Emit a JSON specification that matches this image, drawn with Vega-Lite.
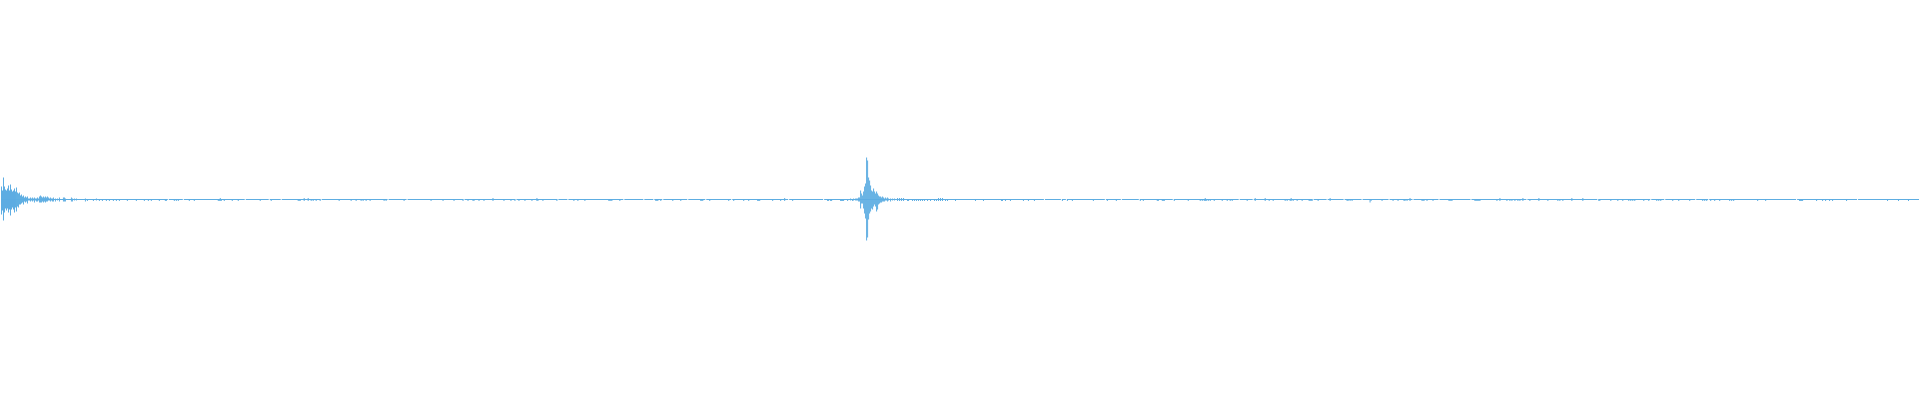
{
  "$schema": "https://vega.github.io/schema/vega-lite/v6.json",
  "width": 1920,
  "height": 400,
  "autosize": {"type": "fit", "contains": "padding"},
  "padding": 0,
  "background": "white",
  "config": {"view": {"stroke": null}},
  "datasets": {
    "base": [
      {"s": -0.5, "e": 166.5}, {"s": 167.5, "e": 181.5}, {"s": 182.5, "e": 243.5}, {"s": 244.5, "e": 267.5},
      {"s": 268.5, "e": 279.5}, {"s": 280.5, "e": 319.5}, {"s": 320.5, "e": 386.5}, {"s": 387.5, "e": 405.5},
      {"s": 406.5, "e": 462.5}, {"s": 463.5, "e": 514.5}, {"s": 515.5, "e": 556.5}, {"s": 557.5, "e": 566.5},
      {"s": 567.5, "e": 622.5}, {"s": 623.5, "e": 642.5}, {"s": 643.5, "e": 652.5}, {"s": 653.5, "e": 661.5},
      {"s": 662.5, "e": 686.5}, {"s": 687.5, "e": 704.5}, {"s": 705.5, "e": 730.5}, {"s": 731.5, "e": 787.5},
      {"s": 788.5, "e": 822.5}, {"s": 823.5, "e": 1043.5}, {"s": 1044.5, "e": 1060.5}, {"s": 1061.5, "e": 1065.5},
      {"s": 1066.5, "e": 1104.5}, {"s": 1105.5, "e": 1120.5}, {"s": 1121.5, "e": 1138.5}, {"s": 1139.5, "e": 1172.5},
      {"s": 1173.5, "e": 1238.5}, {"s": 1239.5, "e": 1252.5}, {"s": 1253.5, "e": 1312.5}, {"s": 1313.5, "e": 1326.5},
      {"s": 1327.5, "e": 1343.5}, {"s": 1344.5, "e": 1361.5}, {"s": 1362.5, "e": 1388.5}, {"s": 1389.5, "e": 1412.5},
      {"s": 1413.5, "e": 1438.5}, {"s": 1439.5, "e": 1470.5}, {"s": 1471.5, "e": 1526.5}, {"s": 1527.5, "e": 1597.5},
      {"s": 1598.5, "e": 1650.5}, {"s": 1651.5, "e": 1664.5}, {"s": 1665.5, "e": 1695.5}, {"s": 1696.5, "e": 1708.5},
      {"s": 1709.5, "e": 1796.5}, {"s": 1797.5, "e": 1857.5}, {"s": 1858.5, "e": 1919.5}
    ],
    "bars": [
      {"t": 0, "lo": -15, "hi": 13}, {"t": 1, "lo": -11, "hi": 9}, {"t": 2, "lo": -21, "hi": 22}, {"t": 3, "lo": -13, "hi": 13},
      {"t": 4, "lo": -9, "hi": 10}, {"t": 5, "lo": -11, "hi": 9}, {"t": 6, "lo": -9, "hi": 11}, {"t": 7, "lo": -13, "hi": 14},
      {"t": 8, "lo": -10, "hi": 9}, {"t": 9, "lo": -16, "hi": 15}, {"t": 10, "lo": -10, "hi": 10}, {"t": 11, "lo": -8, "hi": 8},
      {"t": 12, "lo": -10, "hi": 9}, {"t": 13, "lo": -13, "hi": 11}, {"t": 14, "lo": -8, "hi": 8}, {"t": 15, "lo": -12, "hi": 12},
      {"t": 16, "lo": -7, "hi": 7}, {"t": 17, "lo": -8, "hi": 6}, {"t": 18, "lo": -5, "hi": 7}, {"t": 19, "lo": -5, "hi": 4},
      {"t": 20, "lo": -4, "hi": 5}, {"t": 21, "lo": -3, "hi": 3}, {"t": 22, "lo": -5, "hi": 4}, {"t": 23, "lo": -2, "hi": 2},
      {"t": 24, "lo": -3, "hi": 3}, {"t": 25, "lo": -2, "hi": 2}, {"t": 26, "lo": -4, "hi": 3}, {"t": 27, "lo": -1, "hi": 1},
      {"t": 28, "lo": -1, "hi": 1}, {"t": 29, "lo": -2, "hi": 2}, {"t": 30, "lo": -1, "hi": 1}, {"t": 31, "lo": -2, "hi": 2},
      {"t": 32, "lo": -1, "hi": 1}, {"t": 33, "lo": -3, "hi": 2}, {"t": 34, "lo": -1, "hi": 1}, {"t": 35, "lo": -2, "hi": 1},
      {"t": 36, "lo": -2, "hi": 2}, {"t": 37, "lo": -1, "hi": 1}, {"t": 38, "lo": -3, "hi": 3}, {"t": 39, "lo": -3, "hi": 4},
      {"t": 40, "lo": -3, "hi": 3}, {"t": 41, "lo": -2, "hi": 2}, {"t": 42, "lo": -3, "hi": 3}, {"t": 43, "lo": -2, "hi": 2},
      {"t": 44, "lo": -3, "hi": 3}, {"t": 45, "lo": -2, "hi": 2}, {"t": 46, "lo": -2, "hi": 3}, {"t": 47, "lo": -1, "hi": 2},
      {"t": 48, "lo": -1, "hi": 1}, {"t": 49, "lo": -2, "hi": 2}, {"t": 50, "lo": -1, "hi": 1}, {"t": 51, "lo": -2, "hi": 1},
      {"t": 52, "lo": -2, "hi": 2}, {"t": 54, "lo": -2, "hi": 1}, {"t": 56, "lo": -1, "hi": 1}, {"t": 58, "lo": -2, "hi": 2},
      {"t": 62, "lo": -2, "hi": 2}, {"t": 63, "lo": -2, "hi": 2}, {"t": 64, "lo": -2, "hi": 1}, {"t": 70, "lo": -2, "hi": 2},
      {"t": 71, "lo": -2, "hi": 1}, {"t": 73, "lo": -1, "hi": 1}, {"t": 75, "lo": -1, "hi": 1}, {"t": 84, "lo": -2, "hi": 1},
      {"t": 86, "lo": -1.5, "hi": 0}, {"t": 92, "lo": -1.5, "hi": 0}, {"t": 95, "lo": -1, "hi": 1}, {"t": 98, "lo": -1.5, "hi": 0},
      {"t": 101, "lo": -1.5, "hi": 0}, {"t": 105, "lo": -1.5, "hi": 0}, {"t": 108, "lo": -1.5, "hi": 0}, {"t": 112, "lo": -1.5, "hi": 0},
      {"t": 115, "lo": -1.5, "hi": 0}, {"t": 118, "lo": -1.5, "hi": 0}, {"t": 126, "lo": -1.5, "hi": 0}, {"t": 135, "lo": -1.5, "hi": 0},
      {"t": 143, "lo": -1.5, "hi": 0}, {"t": 147, "lo": -1.5, "hi": 0}, {"t": 150, "lo": -1.5, "hi": 0}, {"t": 158, "lo": -1.5, "hi": 0},
      {"t": 164, "lo": -1.5, "hi": 0}, {"t": 165, "lo": -1.5, "hi": 0}, {"t": 173, "lo": -1.5, "hi": 0}, {"t": 175, "lo": -1.5, "hi": 0},
      {"t": 177, "lo": -1.5, "hi": 0}, {"t": 188, "lo": -1.5, "hi": 0}, {"t": 193, "lo": -1.5, "hi": 0}, {"t": 217, "lo": -1.5, "hi": 0},
      {"t": 218, "lo": -1.5, "hi": 0}, {"t": 219, "lo": -1.5, "hi": 1.5}, {"t": 220, "lo": -1.5, "hi": 0}, {"t": 223, "lo": -1.5, "hi": 0},
      {"t": 231, "lo": -1.5, "hi": 0}, {"t": 237, "lo": -1.5, "hi": 0}, {"t": 259, "lo": -1.5, "hi": 0}, {"t": 270, "lo": -1.5, "hi": 0},
      {"t": 297, "lo": -1.5, "hi": 0}, {"t": 298, "lo": -1.5, "hi": 0}, {"t": 299, "lo": -1.5, "hi": 0}, {"t": 303, "lo": -1.5, "hi": 1.5},
      {"t": 307, "lo": -1.5, "hi": 1.5}, {"t": 310, "lo": -1.5, "hi": 0}, {"t": 312, "lo": -1.5, "hi": 0}, {"t": 315, "lo": -1.5, "hi": 0},
      {"t": 319, "lo": -1.5, "hi": 0}, {"t": 338, "lo": -1.5, "hi": 0}, {"t": 350, "lo": -1.5, "hi": 0}, {"t": 355, "lo": -1.5, "hi": 0},
      {"t": 360, "lo": -1.5, "hi": 0}, {"t": 362, "lo": -1.5, "hi": 0}, {"t": 365, "lo": -1.5, "hi": 0}, {"t": 369, "lo": -1.5, "hi": 0},
      {"t": 383, "lo": -1.5, "hi": 0}, {"t": 385, "lo": -1.5, "hi": 0}, {"t": 403, "lo": -1.5, "hi": 0}, {"t": 430, "lo": -1.5, "hi": 0},
      {"t": 442, "lo": -1.5, "hi": 0}, {"t": 453, "lo": -1.5, "hi": 0}, {"t": 462, "lo": -1.5, "hi": 0}, {"t": 467, "lo": -1.5, "hi": 0},
      {"t": 472, "lo": -1.5, "hi": 0}, {"t": 473, "lo": -1.5, "hi": 0}, {"t": 478, "lo": -1.5, "hi": 0}, {"t": 483, "lo": -1.5, "hi": 0},
      {"t": 492, "lo": -1.5, "hi": 1.5}, {"t": 503, "lo": -1.5, "hi": 0}, {"t": 510, "lo": -1.5, "hi": 0}, {"t": 514, "lo": -1.5, "hi": 0},
      {"t": 518, "lo": -1.5, "hi": 0}, {"t": 524, "lo": -1.5, "hi": 0}, {"t": 531, "lo": -1.5, "hi": 0}, {"t": 536, "lo": -1.5, "hi": 1.5},
      {"t": 537, "lo": -1.5, "hi": 0}, {"t": 542, "lo": -1.5, "hi": 0}, {"t": 556, "lo": -1.5, "hi": 0}, {"t": 573, "lo": -1.5, "hi": 0},
      {"t": 577, "lo": -1.5, "hi": 0}, {"t": 584, "lo": -1.5, "hi": 0}, {"t": 608, "lo": -1.5, "hi": 0}, {"t": 609, "lo": -1.5, "hi": 0},
      {"t": 610, "lo": -1.5, "hi": 0}, {"t": 611, "lo": -1.5, "hi": 0}, {"t": 619, "lo": -1.5, "hi": 0}, {"t": 655, "lo": -1.5, "hi": 0},
      {"t": 656, "lo": -1.5, "hi": 0}, {"t": 657, "lo": -1.5, "hi": 0}, {"t": 660, "lo": -1.5, "hi": 0}, {"t": 672, "lo": -1.5, "hi": 0},
      {"t": 680, "lo": -1.5, "hi": 0}, {"t": 700, "lo": -1.5, "hi": 0}, {"t": 701, "lo": -1.5, "hi": 0}, {"t": 702, "lo": -1.5, "hi": 0},
      {"t": 709, "lo": -1.5, "hi": 0}, {"t": 728, "lo": -1.5, "hi": 0}, {"t": 733, "lo": -1.5, "hi": 0}, {"t": 743, "lo": -1.5, "hi": 0},
      {"t": 748, "lo": -1.5, "hi": 0}, {"t": 757, "lo": -1.5, "hi": 0}, {"t": 758, "lo": -1.5, "hi": 0}, {"t": 759, "lo": -1.5, "hi": 0},
      {"t": 772, "lo": -1.5, "hi": 0}, {"t": 780, "lo": -1.5, "hi": 0}, {"t": 784, "lo": -1.5, "hi": 1.5}, {"t": 792, "lo": -1.5, "hi": 0},
      {"t": 827, "lo": -1.5, "hi": 0}, {"t": 828, "lo": -1.5, "hi": 0}, {"t": 830, "lo": -1.5, "hi": 0}, {"t": 831, "lo": -1.5, "hi": 0},
      {"t": 840, "lo": -1.5, "hi": 0}, {"t": 841, "lo": -1.5, "hi": 0}, {"t": 842, "lo": -1.5, "hi": 0}, {"t": 843, "lo": -1.5, "hi": 0},
      {"t": 847, "lo": -1.5, "hi": 0}, {"t": 850, "lo": -1, "hi": 1}, {"t": 852, "lo": -1.5, "hi": 0}, {"t": 853, "lo": -1, "hi": 1},
      {"t": 855, "lo": -1, "hi": 1}, {"t": 856, "lo": -1, "hi": 1}, {"t": 857, "lo": -1, "hi": 1}, {"t": 858, "lo": -2, "hi": 2},
      {"t": 859, "lo": -2, "hi": 2}, {"t": 860, "lo": -9, "hi": 9}, {"t": 861, "lo": -4, "hi": 6}, {"t": 862, "lo": -4, "hi": 4},
      {"t": 863, "lo": -9, "hi": 8}, {"t": 864, "lo": -14, "hi": 13}, {"t": 865, "lo": -19, "hi": 16}, {"t": 866, "lo": -41, "hi": 42},
      {"t": 867, "lo": -38, "hi": 39}, {"t": 868, "lo": -20, "hi": 22}, {"t": 869, "lo": -14, "hi": 19}, {"t": 870, "lo": -12, "hi": 14},
      {"t": 871, "lo": -9, "hi": 9}, {"t": 872, "lo": -10, "hi": 8}, {"t": 873, "lo": -7, "hi": 11}, {"t": 874, "lo": -5, "hi": 8},
      {"t": 875, "lo": -7, "hi": 6}, {"t": 876, "lo": -12, "hi": 8}, {"t": 877, "lo": -10, "hi": 6}, {"t": 878, "lo": -5, "hi": 4},
      {"t": 879, "lo": -4, "hi": 3}, {"t": 880, "lo": -3, "hi": 3}, {"t": 881, "lo": -3, "hi": 2}, {"t": 882, "lo": -2, "hi": 3},
      {"t": 883, "lo": -2, "hi": 2}, {"t": 884, "lo": -2, "hi": 1}, {"t": 885, "lo": -1, "hi": 2}, {"t": 886, "lo": -1, "hi": 1},
      {"t": 887, "lo": -2, "hi": 2}, {"t": 888, "lo": -1, "hi": 1}, {"t": 890, "lo": -2, "hi": 1}, {"t": 892, "lo": -1, "hi": 1},
      {"t": 894, "lo": -1, "hi": 1}, {"t": 897, "lo": -1.5, "hi": 1.5}, {"t": 899, "lo": -1.5, "hi": 1.5}, {"t": 901, "lo": -1.5, "hi": 1.5},
      {"t": 903, "lo": -1.5, "hi": 1.5}, {"t": 907, "lo": -1.5, "hi": 0}, {"t": 908, "lo": -1.5, "hi": 0}, {"t": 912, "lo": -1.5, "hi": 0},
      {"t": 914, "lo": -1.5, "hi": 0}, {"t": 916, "lo": -1.5, "hi": 0}, {"t": 918, "lo": -1.5, "hi": 0}, {"t": 920, "lo": -1.5, "hi": 0},
      {"t": 922, "lo": -1.5, "hi": 0}, {"t": 924, "lo": -1.5, "hi": 0}, {"t": 927, "lo": -1.5, "hi": 0}, {"t": 930, "lo": -1.5, "hi": 0},
      {"t": 934, "lo": -1.5, "hi": 0}, {"t": 936, "lo": -1.5, "hi": 0}, {"t": 938, "lo": -1.5, "hi": 1.5}, {"t": 940, "lo": -1.5, "hi": 1.5},
      {"t": 942, "lo": -1.5, "hi": 1.5}, {"t": 945, "lo": -1.5, "hi": 0}, {"t": 947, "lo": -1.5, "hi": 0}, {"t": 955, "lo": -1.5, "hi": 0},
      {"t": 975, "lo": -1.5, "hi": 0}, {"t": 983, "lo": -1.5, "hi": 0}, {"t": 1001, "lo": -1.5, "hi": 0}, {"t": 1002, "lo": -1.5, "hi": 0},
      {"t": 1005, "lo": -1.5, "hi": 0}, {"t": 1010, "lo": -1.5, "hi": 0}, {"t": 1023, "lo": -1.5, "hi": 0}, {"t": 1028, "lo": -1.5, "hi": 0},
      {"t": 1034, "lo": -1.5, "hi": 0}, {"t": 1062, "lo": -1.5, "hi": 0}, {"t": 1067, "lo": -1.5, "hi": 0}, {"t": 1072, "lo": -1.5, "hi": 0},
      {"t": 1093, "lo": -1.5, "hi": 0}, {"t": 1107, "lo": -1.5, "hi": 0}, {"t": 1116, "lo": -1.5, "hi": 0}, {"t": 1140, "lo": -1.5, "hi": 0},
      {"t": 1143, "lo": -1.5, "hi": 0}, {"t": 1157, "lo": -1.5, "hi": 0}, {"t": 1158, "lo": -1.5, "hi": 0}, {"t": 1162, "lo": -1.5, "hi": 0},
      {"t": 1163, "lo": -1.5, "hi": 0}, {"t": 1164, "lo": -1.5, "hi": 0}, {"t": 1174, "lo": -1.5, "hi": 0}, {"t": 1188, "lo": -1.5, "hi": 0},
      {"t": 1200, "lo": -1.5, "hi": 0}, {"t": 1202, "lo": -1.5, "hi": 0}, {"t": 1204, "lo": -1.5, "hi": 0}, {"t": 1205, "lo": -1.5, "hi": 1.5},
      {"t": 1206, "lo": -1.5, "hi": 0}, {"t": 1208, "lo": -1.5, "hi": 0}, {"t": 1210, "lo": -1.5, "hi": 0}, {"t": 1214, "lo": -1.5, "hi": 0},
      {"t": 1222, "lo": -1.5, "hi": 0}, {"t": 1227, "lo": -1.5, "hi": 0}, {"t": 1230, "lo": -1.5, "hi": 0}, {"t": 1232, "lo": -1.5, "hi": 0},
      {"t": 1247, "lo": -1.5, "hi": 0}, {"t": 1255, "lo": -1.5, "hi": 1.5}, {"t": 1265, "lo": -1.5, "hi": 1.5}, {"t": 1269, "lo": -1.5, "hi": 0},
      {"t": 1273, "lo": -1.5, "hi": 0}, {"t": 1285, "lo": -1.5, "hi": 0}, {"t": 1287, "lo": -1.5, "hi": 0}, {"t": 1290, "lo": -1.5, "hi": 0},
      {"t": 1291, "lo": -1.5, "hi": 1.5}, {"t": 1293, "lo": -1.5, "hi": 0}, {"t": 1297, "lo": -1.5, "hi": 0}, {"t": 1302, "lo": -1.5, "hi": 0},
      {"t": 1309, "lo": -1.5, "hi": 0}, {"t": 1310, "lo": -1.5, "hi": 0}, {"t": 1311, "lo": -1.5, "hi": 0}, {"t": 1312, "lo": -1.5, "hi": 0},
      {"t": 1318, "lo": -1.5, "hi": 0}, {"t": 1330, "lo": -1.5, "hi": 1.5}, {"t": 1347, "lo": -1.5, "hi": 0}, {"t": 1348, "lo": -1.5, "hi": 0},
      {"t": 1350, "lo": -1.5, "hi": 0}, {"t": 1352, "lo": -1.5, "hi": 0}, {"t": 1370, "lo": -3, "hi": 0}, {"t": 1371, "lo": -1.5, "hi": 0},
      {"t": 1382, "lo": -1.5, "hi": 0}, {"t": 1393, "lo": -1.5, "hi": 0}, {"t": 1398, "lo": -1.5, "hi": 0}, {"t": 1404, "lo": -1.5, "hi": 0},
      {"t": 1405, "lo": -1.5, "hi": 0}, {"t": 1407, "lo": -1.5, "hi": 0}, {"t": 1410, "lo": -1.5, "hi": 1.5}, {"t": 1422, "lo": -1.5, "hi": 0},
      {"t": 1423, "lo": -1.5, "hi": 0}, {"t": 1424, "lo": -1.5, "hi": 0}, {"t": 1427, "lo": -1.5, "hi": 0}, {"t": 1433, "lo": -1.5, "hi": 0},
      {"t": 1449, "lo": -1.5, "hi": 0}, {"t": 1450, "lo": -1.5, "hi": 0}, {"t": 1451, "lo": -1.5, "hi": 0}, {"t": 1452, "lo": -1.5, "hi": 0},
      {"t": 1475, "lo": -1.5, "hi": 0}, {"t": 1476, "lo": -1.5, "hi": 0}, {"t": 1477, "lo": -1.5, "hi": 0}, {"t": 1478, "lo": -1.5, "hi": 0},
      {"t": 1479, "lo": -1.5, "hi": 0}, {"t": 1480, "lo": -1.5, "hi": 0}, {"t": 1497, "lo": -1.5, "hi": 0}, {"t": 1500, "lo": -1.5, "hi": 1.5},
      {"t": 1507, "lo": -1.5, "hi": 0}, {"t": 1510, "lo": -1.5, "hi": 0}, {"t": 1512, "lo": -1.5, "hi": 0}, {"t": 1515, "lo": -1.5, "hi": 0},
      {"t": 1518, "lo": -1.5, "hi": 0}, {"t": 1520, "lo": -1.5, "hi": 0}, {"t": 1523, "lo": -1.5, "hi": 1.5}, {"t": 1530, "lo": -1.5, "hi": 0},
      {"t": 1539, "lo": -1.5, "hi": 1.5}, {"t": 1548, "lo": -1.5, "hi": 0}, {"t": 1558, "lo": -1.5, "hi": 0}, {"t": 1560, "lo": -1.5, "hi": 0},
      {"t": 1563, "lo": -1.5, "hi": 0}, {"t": 1572, "lo": -1.5, "hi": 1.5}, {"t": 1583, "lo": -1.5, "hi": 1.5}, {"t": 1599, "lo": -1.5, "hi": 0},
      {"t": 1600, "lo": -1.5, "hi": 0}, {"t": 1611, "lo": -1.5, "hi": 0}, {"t": 1618, "lo": -1.5, "hi": 0}, {"t": 1623, "lo": -1.5, "hi": 0},
      {"t": 1629, "lo": -1.5, "hi": 0}, {"t": 1631, "lo": -1.5, "hi": 0}, {"t": 1633, "lo": -1.5, "hi": 0}, {"t": 1635, "lo": -1.5, "hi": 0},
      {"t": 1644, "lo": -1.5, "hi": 0}, {"t": 1649, "lo": -1.5, "hi": 0}, {"t": 1657, "lo": -1.5, "hi": 0}, {"t": 1659, "lo": -1.5, "hi": 0},
      {"t": 1661, "lo": -1.5, "hi": 0}, {"t": 1673, "lo": -1.5, "hi": 0}, {"t": 1679, "lo": -1.5, "hi": 0}, {"t": 1690, "lo": -1.5, "hi": 0},
      {"t": 1703, "lo": -1.5, "hi": 0}, {"t": 1705, "lo": -1.5, "hi": 0}, {"t": 1707, "lo": -1.5, "hi": 0}, {"t": 1711, "lo": -1.5, "hi": 0},
      {"t": 1715, "lo": -1.5, "hi": 0}, {"t": 1720, "lo": -1.5, "hi": 0}, {"t": 1730, "lo": -1.5, "hi": 0}, {"t": 1732, "lo": -1.5, "hi": 0},
      {"t": 1734, "lo": -1.5, "hi": 0}, {"t": 1758, "lo": -1.5, "hi": 0}, {"t": 1766, "lo": -1.5, "hi": 0}, {"t": 1800, "lo": -1.5, "hi": 0},
      {"t": 1801, "lo": -1.5, "hi": 0}, {"t": 1802, "lo": -1.5, "hi": 0}, {"t": 1803, "lo": -1.5, "hi": 0}, {"t": 1817, "lo": -1.5, "hi": 0},
      {"t": 1823, "lo": -1.5, "hi": 0}, {"t": 1826, "lo": -1.5, "hi": 0}, {"t": 1830, "lo": -1.5, "hi": 0}, {"t": 1833, "lo": -1.5, "hi": 0},
      {"t": 1847, "lo": -1.5, "hi": 0}, {"t": 1888, "lo": -1.5, "hi": 0}, {"t": 1899, "lo": -1.5, "hi": 0}, {"t": 1909, "lo": -1.5, "hi": 0}
    ]
  },
  "layer": [
    {
      "data": {"name": "base"},
      "mark": {"type": "rule", "color": "#5dade2", "strokeWidth": 1},
      "encoding": {
        "x": {"field": "s", "type": "quantitative", "scale": {"domain": [-0.5, 1919.5], "nice": false, "zero": false}, "axis": null},
        "x2": {"field": "e"},
        "y": {"datum": 0, "type": "quantitative", "scale": {"domain": [-200.5, 199.5], "nice": false, "zero": false}, "axis": null}
      }
    },
    {
      "data": {"name": "bars"},
      "mark": {"type": "rule", "color": "#5dade2", "strokeWidth": 1},
      "encoding": {
        "x": {"field": "t", "type": "quantitative", "scale": {"domain": [-0.5, 1919.5], "nice": false, "zero": false}, "axis": null},
        "y": {"field": "lo", "type": "quantitative", "scale": {"domain": [-200.5, 199.5], "nice": false, "zero": false}, "axis": null},
        "y2": {"field": "hi"}
      }
    }
  ]
}
